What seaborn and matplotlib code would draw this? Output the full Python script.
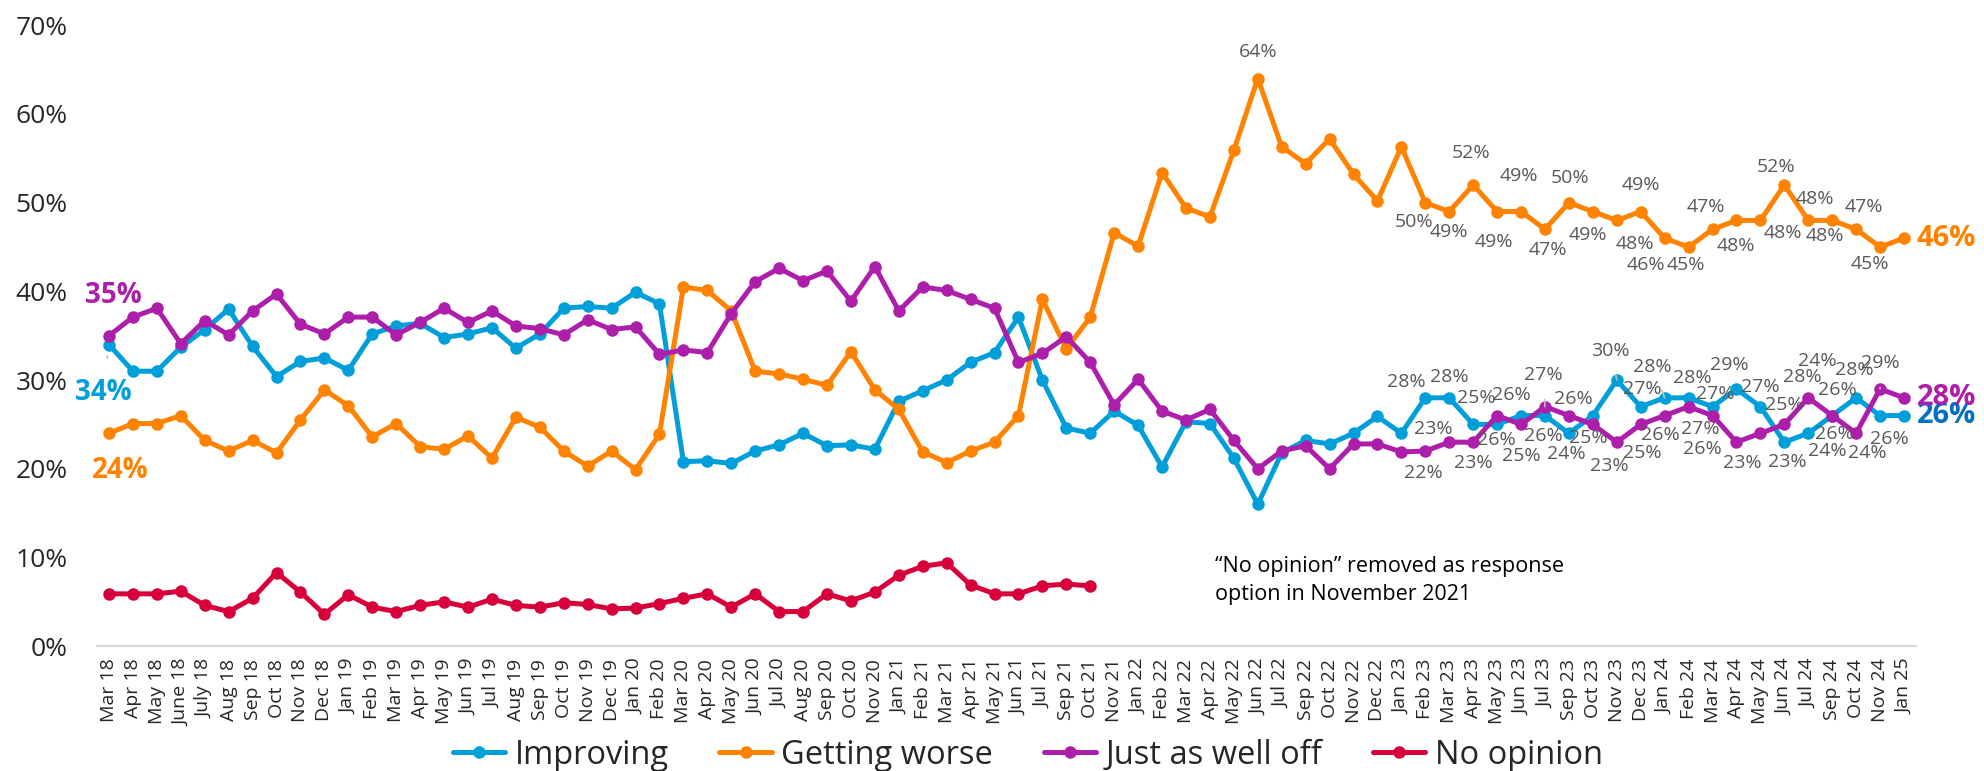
import numpy as np
import pandas as pd
import matplotlib
matplotlib.use("Agg")
import matplotlib.pyplot as plt
from matplotlib.lines import Line2D
import seaborn as sns

months = [
    "Mar 18", "Apr 18", "May 18", "June 18", "July 18", "Aug 18", "Sep 18", "Oct 18", "Nov 18", "Dec 18",
    "Jan 19", "Feb 19", "Mar 19", "Apr 19", "May 19", "Jun 19", "Jul 19", "Aug 19", "Sep 19", "Oct 19",
    "Nov 19", "Dec 19",
    "Jan 20", "Feb 20", "Mar 20", "Apr 20", "May 20", "Jun 20", "Jul 20", "Aug 20", "Sep 20", "Oct 20", "Nov 20",
    "Jan 21", "Feb 21", "Mar 21", "Apr 21", "May 21", "Jun 21", "Jul 21", "Sep 21", "Oct 21", "Nov 21",
    "Jan 22", "Feb 22", "Mar 22", "Apr 22", "May 22", "Jun 22", "Jul 22", "Sep 22", "Oct 22", "Nov 22", "Dec 22",
    "Jan 23", "Feb 23", "Mar 23", "Apr 23", "May 23", "Jun 23", "Jul 23", "Sep 23", "Oct 23", "Nov 23", "Dec 23",
    "Jan 24", "Feb 24", "Mar 24", "Apr 24", "May 24", "Jun 24", "Jul 24", "Sep 24", "Oct 24", "Nov 24", "Jan 25",
]

improving = [
    34, 31, 31, 33.7, 35.7, 38, 33.8, 30.4, 32.1, 32.5,
    31.1, 35.2, 36.1, 36.4, 34.8, 35.2, 35.9, 33.6, 35.2, 38.1, 38.3, 38.1,
    39.9, 38.6, 20.8, 20.9, 20.6, 22.0, 22.7, 24.0, 22.6, 22.7, 22.2,
    27.6, 28.8, 30.0, 32.0, 33.1, 37.1, 30.0, 24.6, 24.0, 26.5,
    24.9, 20.2, 25.3, 25.1, 21.2, 16.0, 21.8, 23.2, 22.8, 24.0, 25.9,
    24.0, 28, 28, 25, 25, 26, 26, 24, 26, 30, 27,
    28, 28, 27, 29, 27, 23, 24, 26, 28, 26, 26,
]
getting_worse = [
    24, 25.1, 25.1, 26.0, 23.2, 22.0, 23.2, 21.8, 25.5, 28.9,
    27.1, 23.6, 25.1, 22.5, 22.2, 23.7, 21.2, 25.8, 24.7, 22.0, 20.3, 22.0,
    19.9, 23.9, 40.5, 40.1, 37.8, 31.0, 30.7, 30.1, 29.4, 33.2, 28.9,
    26.7, 21.9, 20.7, 22.0, 23.0, 26.0, 39.1, 33.5, 37.1, 46.6,
    45.1, 53.4, 49.4, 48.4, 55.9, 64, 56.3, 54.4, 57.2, 53.2, 50.2,
    56.3, 50, 49, 52, 49, 49, 47, 50, 49, 48, 49,
    46, 45, 47, 48, 48, 52, 48, 48, 47, 45, 46,
]
just_as_well = [
    35, 37.1, 38.1, 34.1, 36.7, 35.1, 37.8, 39.7, 36.3, 35.2,
    37.1, 37.1, 35.1, 36.5, 38.1, 36.5, 37.8, 36.1, 35.8, 35.1, 36.8, 35.7,
    36.0, 32.9, 33.4, 33.1, 37.5, 41.1, 42.6, 41.2, 42.3, 38.9, 42.8,
    37.8, 40.5, 40.1, 39.1, 38.1, 32.0, 33.0, 34.9, 32.0, 27.2,
    30.1, 26.5, 25.5, 26.7, 23.2, 20.0, 22.0, 22.6, 20.0, 22.8, 22.8,
    21.9, 22, 23, 23, 26, 25, 27, 26, 25, 23, 25,
    26, 27, 26, 23, 24, 25, 28, 26, 24, 29, 28,
]
# "No opinion" was dropped after October 2021
no_opinion = [
    5.9, 5.9, 5.9, 6.2, 4.6, 3.9, 5.4, 8.3, 6.1, 3.6,
    5.8, 4.4, 3.9, 4.6, 5.0, 4.4, 5.3, 4.6, 4.4, 4.9, 4.7, 4.2,
    4.3, 4.8, 5.4, 5.9, 4.4, 5.9, 3.9, 3.9, 5.9, 5.1, 6.1,
    8.0, 9.0, 9.4, 6.9, 5.9, 5.9, 6.8, 7.0, 6.8,
] + [np.nan] * 34

series_names = ["Improving", "Getting worse", "Just as well off", "No opinion"]
series_values = [improving, getting_worse, just_as_well, no_opinion]
colors = {
    "Improving": "#009FDA",
    "Getting worse": "#FF8200",
    "Just as well off": "#AD1FAA",
    "No opinion": "#D7003A",
}
end_colors = {"Improving": "#0070C0", "Getting worse": "#FF8200", "Just as well off": "#AD1FAA"}

# hand-placed data labels: point index -> (dx, dy) offset in pixels, dy up
label_offsets = {
    "Getting worse": {
        55: (-11, -19), 56: (0, -20), 57: (-2, 32), 58: (-3, -30), 59: (-2, 36),
        60: (3, -21), 61: (1, 25), 62: (-5, -23), 63: (18, -24), 64: (0, 27),
        65: (-19, -27), 66: (-3, -18), 67: (-7, 22), 68: (-1, -26), 69: (22, -13),
        70: (-8, 18), 71: (7, 21), 72: (-7, -16), 73: (8, 22), 74: (-10, -17),
    },
    "Improving": {
        55: (-19, 16), 56: (0, 21), 57: (3, 26), 59: (-10, 21), 60: (-2, -20),
        61: (-3, -21), 63: (-6, 29), 64: (2, 18), 65: (-12, 31), 66: (4, 20),
        67: (3, 13), 68: (-7, 24), 69: (0, 20), 70: (3, -20), 71: (19, -18),
        72: (5, 26), 73: (-2, 28), 74: (9, -23),
    },
    "Just as well off": {
        55: (-2, -22), 56: (-16, 13), 57: (0, -21), 58: (-1, -24), 59: (0, -32),
        60: (-2, 32), 61: (4, 17), 62: (-5, -14), 63: (-7, -24), 64: (2, -29),
        65: (-4, -19), 66: (12, -22), 67: (-10, -33), 68: (6, -21), 69: (57, 72),
        70: (0, 19), 71: (-6, 21), 72: (2, -18), 73: (11, -20), 74: (0, 26),
    },
}
leaders = {("Improving", 63), ("Improving", 65), ("Just as well off", 60),
           ("Just as well off", 67), ("Just as well off", 74)}

df = pd.concat(
    [pd.DataFrame({"pos": np.arange(len(months)), "value": v, "series": n})
     for n, v in zip(series_names, series_values)],
    ignore_index=True,
).dropna()

sns.set_theme(style="white")
plt.rcParams["font.family"] = ["Open Sans", "DejaVu Sans"]

fig = plt.figure(figsize=(19.84, 7.71), dpi=100)
ax = fig.add_axes([0.0489, 0.1619, 0.9168, 0.8053])

sns.lineplot(
    data=df, x="pos", y="value", hue="series", hue_order=series_names,
    palette=colors, marker="o", markersize=9, markeredgewidth=0,
    linewidth=3.6, legend=False, sort=False, errorbar=None, ax=ax,
)

ax.set_xlim(-0.5, len(months) - 0.5)
ax.set_ylim(0, 70)
ax.set_yticks(range(0, 71, 10))
ax.set_yticklabels([f"{v}%" for v in range(0, 71, 10)], fontsize=19)
ax.set_xticks(range(len(months)))
ax.set_xticklabels(months, rotation=90, fontsize=14)
ax.tick_params(axis="y", length=0, pad=21)
ax.tick_params(axis="x", length=0, pad=9)
ax.set_xlabel("")
ax.set_ylabel("")
for side in ["left", "right", "top"]:
    ax.spines[side].set_visible(False)
ax.spines["bottom"].set_color("#D9D9D9")
ax.spines["bottom"].set_linewidth(1.5)

label_kw = dict(textcoords="offset pixels", ha="center", va="center",
                fontsize=14, color="#595959")
leader_kw = dict(arrowstyle="-", color="#BFBFBF", lw=1.2, shrinkA=9, shrinkB=6)

# data labels on the recent points
for name, vals in zip(series_names, series_values):
    for i, (dx, dy) in label_offsets.get(name, {}).items():
        extra = {"arrowprops": leader_kw} if (name, i) in leaders else {}
        ax.annotate(f"{vals[i]:.0f}%", (i, vals[i]), xytext=(dx, dy), **label_kw, **extra)

# peak label
peak = int(np.argmax(getting_worse))
ax.annotate(f"{getting_worse[peak]:.0f}%", (peak, getting_worse[peak]), xytext=(0, 27), **label_kw)

# first-point labels
big = dict(textcoords="offset pixels", ha="center", va="center", fontsize=20, fontweight="bold")
ax.annotate(f"{just_as_well[0]:.0f}%", (0, just_as_well[0]), xytext=(4, 40),
            color=colors["Just as well off"], **big)
ax.annotate(f"{improving[0]:.0f}%", (0, improving[0]), xytext=(-6, -48),
            color=colors["Improving"],
            arrowprops=dict(arrowstyle="-", color="#BFBFBF", lw=1.2, shrinkA=12, shrinkB=-8),
            **big)
ax.annotate(f"{getting_worse[0]:.0f}%", (0, getting_worse[0]), xytext=(11, -37),
            color=colors["Getting worse"], **big)

# last-point labels
last = len(months) - 1
for name, vals in zip(series_names[:3], series_values[:3]):
    ax.annotate(f"{vals[last]:.0f}%", (last, vals[last]), xytext=(13, 0),
                textcoords="offset pixels", ha="left", va="center",
                fontsize=21, fontweight="bold", color=end_colors[name])

ax.text(46.2, 7.4, "\u201cNo opinion\u201d removed as response\noption in November 2021",
        fontsize=15.5, color="black", ha="left", va="center", linespacing=1.45)

handles = [Line2D([0], [0], color=colors[n], lw=3.6, marker="o", markersize=9,
                  markeredgewidth=0) for n in series_names]
fig.legend(handles, series_names, loc="center", bbox_to_anchor=(1028 / 1984, 1 - 755 / 771),
           ncol=4, frameon=False, fontsize=23.5, handlelength=1.6,
           handletextpad=0.3, columnspacing=1.55)

fig.savefig("out.png", dpi=100)
